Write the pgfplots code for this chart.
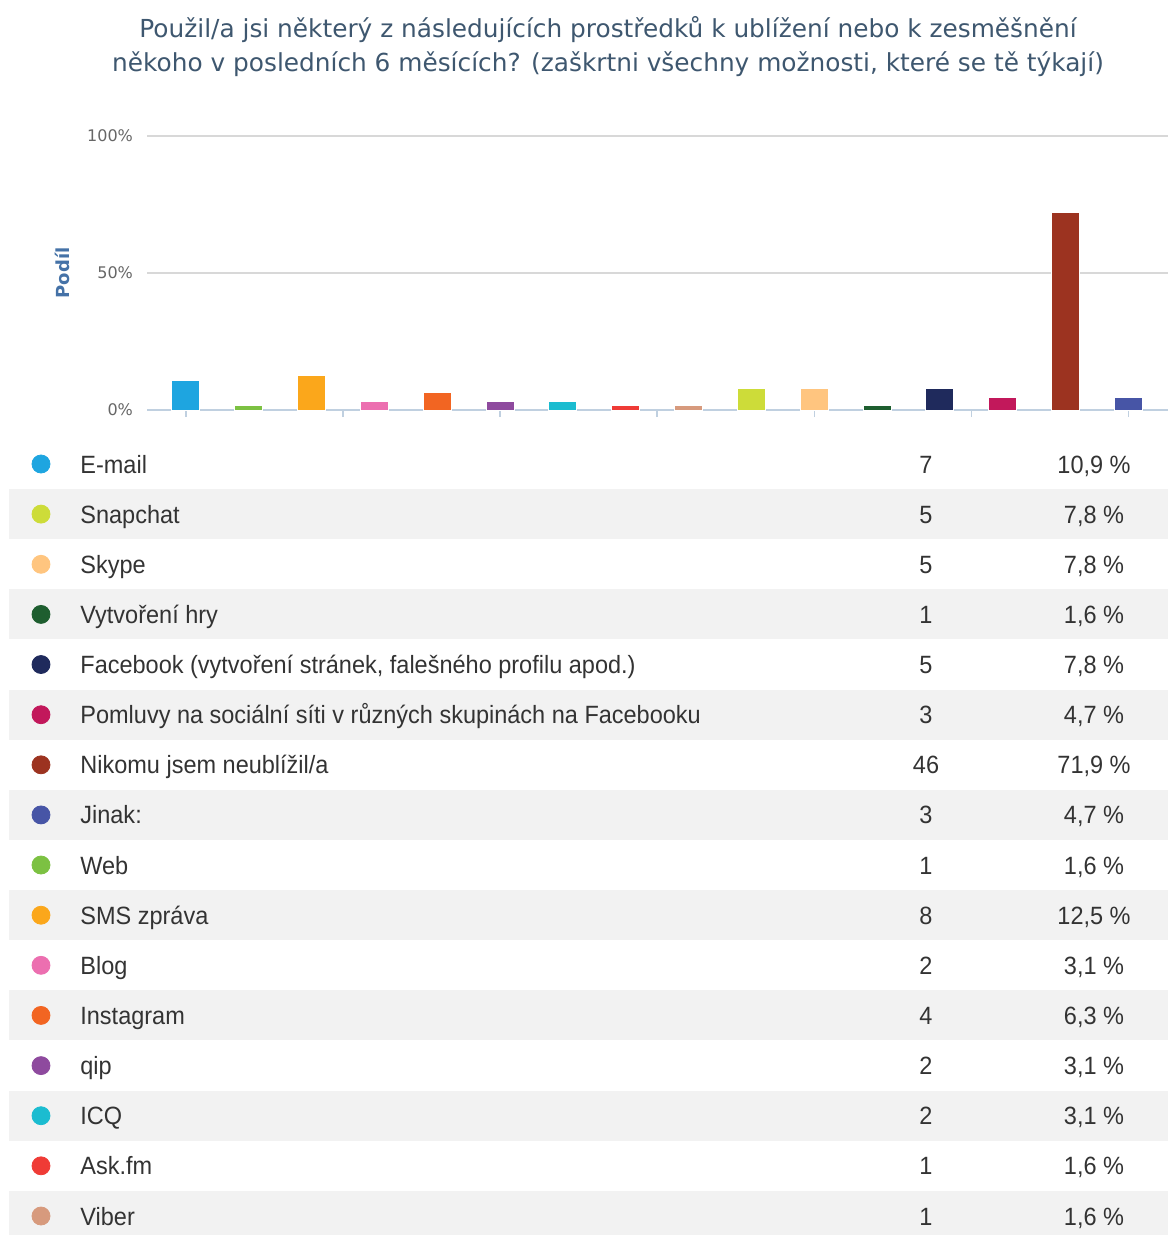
\documentclass[border=0pt]{standalone}
\usepackage{fontspec}
\setmainfont{Liberation Sans}[FakeStretch=0.94]
\newfontfamily\djv{DejaVu Sans}
\usepackage{pgfplots}
\pgfplotsset{compat=1.18}

\definecolor{titleblue}{HTML}{3E576F}
\definecolor{labelblue}{HTML}{4572A7}
\definecolor{tickgrey}{HTML}{666666}
\definecolor{gridgrey}{HTML}{D8D8D8}
\definecolor{axisblue}{HTML}{C0D0E0}
\definecolor{rowgrey}{HTML}{F2F2F2}
\definecolor{txt}{HTML}{333333}

\definecolor{cEmail}{HTML}{1EA5E0}
\definecolor{cWeb}{HTML}{7CC142}
\definecolor{cSMS}{HTML}{FBA71B}
\definecolor{cBlog}{HTML}{EC6FB0}
\definecolor{cInsta}{HTML}{F26522}
\definecolor{cQip}{HTML}{8E4A9E}
\definecolor{cICQ}{HTML}{1BBCD0}
\definecolor{cAsk}{HTML}{EF3B36}
\definecolor{cViber}{HTML}{D79A7D}
\definecolor{cSnap}{HTML}{CDDC39}
\definecolor{cSkype}{HTML}{FFC57F}
\definecolor{cHry}{HTML}{1E5E2F}
\definecolor{cFb}{HTML}{1F2A5C}
\definecolor{cPoml}{HTML}{C2185B}
\definecolor{cNik}{HTML}{9C3320}
\definecolor{cJinak}{HTML}{4755A6}

% one table row: baseline y, name, count, share (coordinates in pixels)
\newcommand\trow[4]{%
  \node[anchor=base west, inner sep=0pt, text=txt] at (axis cs:80,#1) {#2};
  \node[anchor=base, inner sep=0pt, text=txt] at (axis cs:926,#1) {#3};
  \node[anchor=base, inner sep=0pt, text=txt] at (axis cs:1094,#1) {#4};}

\begin{document}
\begin{tikzpicture}
\useasboundingbox (0pt,0pt) rectangle (584pt,-617.5pt);

\node[font=\djv\fontsize{12.4}{17}\selectfont, text=titleblue, align=center]
  at (304pt,-23.5pt) {Použil/a jsi některý z následujících prostředků k ublížení nebo k zesměšnění\\
  někoho v posledních 6 měsících? (zaškrtni všechny možnosti, které se tě týkají)};

% bar chart
\begin{axis}[
  at={(73.5pt,-205pt)}, anchor=south west,
  scale only axis, width=510.5pt, height=137pt,
  xmin=-0.62, xmax=15.63, ymin=0, ymax=100,
  axis lines*=left,
  x axis line style={axisblue, line width=0.75pt},
  y axis line style={draw=none},
  xtick={0,2.5,...,15}, xticklabels={},
  x tick style={axisblue, line width=0.75pt},
  tick align=outside, major tick length=3.5pt,
  ytick={0,50,100}, yticklabels={0\%,50\%,100\%},
  y tick style={draw=none},
  yticklabel style={font=\djv\fontsize{8}{9}\selectfont, text=tickgrey},
  ymajorgrids, grid style={gridgrey, line width=0.75pt},
  ylabel={Podíl},
  ylabel style={at={(axis description cs:-0.083,0.5)}, anchor=center,
    font=\djv\bfseries\fontsize{9}{11}\selectfont, text=labelblue},
  every axis plot/.append style={ybar, bar width=14pt, bar shift=0pt,
    draw=white, line width=0.5pt},
]
\addplot[fill=cEmail] coordinates {(0,10.9)};
\addplot[fill=cWeb]   coordinates {(1,1.6)};
\addplot[fill=cSMS]   coordinates {(2,12.5)};
\addplot[fill=cBlog]  coordinates {(3,3.1)};
\addplot[fill=cInsta] coordinates {(4,6.3)};
\addplot[fill=cQip]   coordinates {(5,3.1)};
\addplot[fill=cICQ]   coordinates {(6,3.1)};
\addplot[fill=cAsk]   coordinates {(7,1.6)};
\addplot[fill=cViber] coordinates {(8,1.6)};
\addplot[fill=cSnap]  coordinates {(9,7.8)};
\addplot[fill=cSkype] coordinates {(10,7.8)};
\addplot[fill=cHry]   coordinates {(11,1.6)};
\addplot[fill=cFb]    coordinates {(12,7.8)};
\addplot[fill=cPoml]  coordinates {(13,4.7)};
\addplot[fill=cNik]   coordinates {(14,71.9)};
\addplot[fill=cJinak] coordinates {(15,4.7)};
\end{axis}

% table below
\begin{axis}[
  at={(0pt,-617.5pt)}, anchor=south west,
  scale only axis, width=584pt, height=617.5pt,
  xmin=0, xmax=1168, ymin=-1235, ymax=0,
  hide axis, clip=false,
  font=\fontsize{12.5}{14}\selectfont,
]
\pgfplotsinvokeforeach{1,3,5,7,9,11,13,15}{
  \fill[rowgrey] (axis cs:9,{-464-50.13*#1+25}) rectangle (axis cs:1168,{-464-50.13*#1-25});
}
\addplot[only marks, mark=*, mark size=4.5pt, scatter, scatter src=explicit symbolic,
  scatter/classes={
    a={fill=cEmail,draw=cEmail}, b={fill=cSnap,draw=cSnap}, c={fill=cSkype,draw=cSkype},
    d={fill=cHry,draw=cHry}, e={fill=cFb,draw=cFb}, f={fill=cPoml,draw=cPoml},
    g={fill=cNik,draw=cNik}, h={fill=cJinak,draw=cJinak}, i={fill=cWeb,draw=cWeb},
    j={fill=cSMS,draw=cSMS}, k={fill=cBlog,draw=cBlog}, l={fill=cInsta,draw=cInsta},
    m={fill=cQip,draw=cQip}, n={fill=cICQ,draw=cICQ}, o={fill=cAsk,draw=cAsk},
    p={fill=cViber,draw=cViber}}]
  table[meta=c] {
x  y       c
41 -464    a
41 -514.1  b
41 -564.3  c
41 -614.4  d
41 -664.5  e
41 -714.7  f
41 -764.8  g
41 -814.9  h
41 -865.0  i
41 -915.2  j
41 -965.3  k
41 -1015.4 l
41 -1065.6 m
41 -1115.7 n
41 -1165.8 o
41 -1216.0 p
};
\trow{-473}{E-mail}{7}{10,9 \%}
\trow{-523.1}{Snapchat}{5}{7,8 \%}
\trow{-573.3}{Skype}{5}{7,8 \%}
\trow{-623.4}{Vytvoření hry}{1}{1,6 \%}
\trow{-673.5}{Facebook (vytvoření stránek, falešného profilu apod.)}{5}{7,8 \%}
\trow{-723.7}{Pomluvy na sociální síti v různých skupinách na Facebooku}{3}{4,7 \%}
\trow{-773.8}{Nikomu jsem neublížil/a}{46}{71,9 \%}
\trow{-823.9}{Jinak:}{3}{4,7 \%}
\trow{-874}{Web}{1}{1,6 \%}
\trow{-924.2}{SMS zpráva}{8}{12,5 \%}
\trow{-974.3}{Blog}{2}{3,1 \%}
\trow{-1024.4}{Instagram}{4}{6,3 \%}
\trow{-1074.6}{qip}{2}{3,1 \%}
\trow{-1124.7}{ICQ}{2}{3,1 \%}
\trow{-1174.8}{Ask.fm}{1}{1,6 \%}
\trow{-1225}{Viber}{1}{1,6 \%}
\end{axis}
\end{tikzpicture}
\end{document}
